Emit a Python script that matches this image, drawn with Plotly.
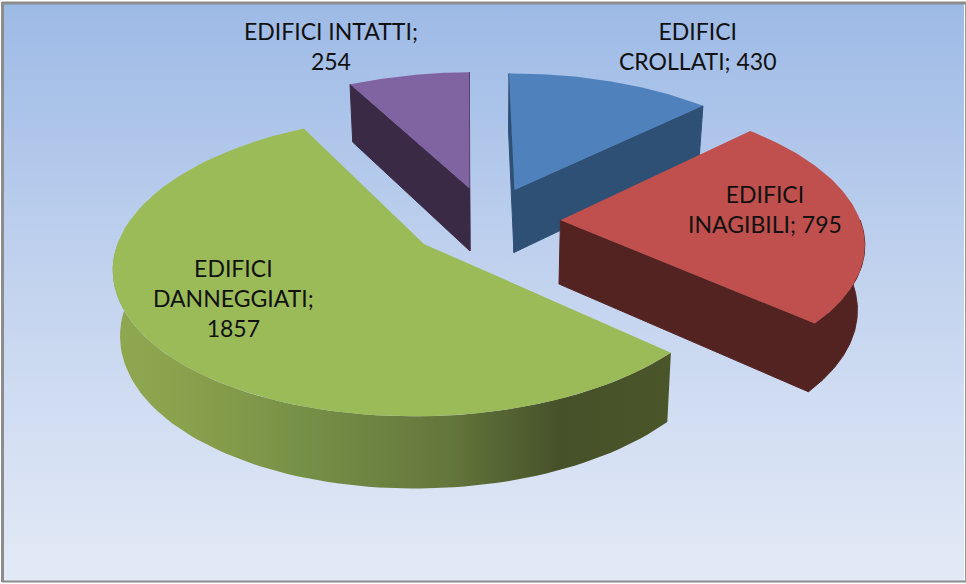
import numpy as np
import plotly.graph_objects as go

categories = ["EDIFICI CROLLATI", "EDIFICI INAGIBILI", "EDIFICI DANNEGGIATI", "EDIFICI INTATTI"]
values = [430, 795, 1857, 254]
top_colors = ["#4F81BD", "#C0504D", "#9BBB59", "#8064A2"]
wall_colors = ["#2F5075", "#522321", "#4A5428", "#3A2A45"]
label_lines = [["EDIFICI", "CROLLATI; 430"], ["EDIFICI", "INAGIBILI; 795"],
               ["EDIFICI", "DANNEGGIATI;", "1857"], ["EDIFICI INTATTI;", "254"]]
label_pos = [(698, 46), (765, 209), (233, 298), (331, 46)]
explode = [0.245, 0.245, 0.26, 0.245]

W, H = 966, 584
CX, CY = 487.0, 221.0
A, B, K = 300.0, 141.0, 0.14
DEPTH, SHRINK = 65.0, 1.02
ROTATION = -0.5


def project(X, Y, z=0.0):
    w = (1 + K * Y) * (1 + (SHRINK - 1) * z)
    return CX + A * X / w, CY + (-B * Y + DEPTH * z) / w


def arc(start, end, ox, oy, z=0.0, n=80):
    t = np.radians(np.linspace(start, end, n))
    return project(ox + np.sin(t), oy + np.cos(t), z)


fig = go.Figure()
# background
fig.add_trace(go.Scatter(x=[4, 964, 964, 4, 4], y=[4, 4, 581, 581, 4], mode="lines",
                         line=dict(color="rgba(0,0,0,0)", width=0), fill="toself",
                         fillgradient=dict(type="vertical",
                                           colorscale=[[0, "#E3EAF6"], [0.5, "#C4D4EF"], [1, "#9DBAE6"]]),
                         hoverinfo="skip", showlegend=False))

total = sum(values)
angles = np.cumsum([0] + values) / total * 360 + ROTATION
order = [3, 0, 1, 2]
for i in order:
    a0, a1 = angles[i], angles[i + 1]
    mid = np.radians((a0 + a1) / 2)
    ox, oy = explode[i] * np.sin(mid), explode[i] * np.cos(mid)
    # radial walls
    for edge in (a0, a1):
        ex, ey = ox + np.sin(np.radians(edge)), oy + np.cos(np.radians(edge))
        ax, ay = project(ox, oy)
        bx, by = project(ex, ey)
        cx, cy = project(ex, ey, 1)
        dx, dy = project(ox, oy, 1)
        area = (bx - ax) * (cy - ay) - (by - ay) * (cx - ax)
        sign = -1 if edge == a1 else 1
        if area * sign > 0:
            continue
        fig.add_trace(go.Scatter(x=[ax, bx, cx, dx, ax], y=[ay, by, cy, dy, ay], mode="lines",
                                 line=dict(width=1, color=wall_colors[i]), fill="toself",
                                 fillcolor=wall_colors[i], hoverinfo="skip", showlegend=False))
    # outer wall on the viewer side
    s, e = max(a0, 90.0), min(a1, 270.0)
    if e > s:
        tx, ty = arc(s, e, ox, oy)
        bx, by = arc(s, e, ox, oy, 1)
        px = np.r_[tx, bx[::-1], tx[0]]
        py = np.r_[ty, by[::-1], ty[0]]
        kw = dict(fillcolor=wall_colors[i], line=dict(width=1, color=wall_colors[i]))
        if categories[i] == "EDIFICI DANNEGGIATI":
            kw = dict(line=dict(width=0),
                      fillgradient=dict(type="horizontal",
                                        colorscale=[[0, "#8FA850"], [0.12, "#8AA24C"], [0.35, "#768F47"],
                                                    [0.6, "#64773C"], [0.8, "#46512A"], [1, "#4A5529"]]))
        fig.add_trace(go.Scatter(x=px, y=py, mode="lines", fill="toself",
                                 hoverinfo="skip", showlegend=False, **kw))
    # top face
    tx, ty = arc(a0, a1, ox, oy)
    ax, ay = project(ox, oy)
    fig.add_trace(go.Scatter(x=np.r_[ax, tx, ax], y=np.r_[ay, ty, ay], mode="lines", line=dict(width=0),
                             fill="toself", fillcolor=top_colors[i], name=categories[i],
                             hovertemplate=f"{categories[i]}: {values[i]}<extra></extra>", showlegend=False))

shapes = [
    dict(type="line", x0=2.5, x1=2.5, y0=2, y1=582, line=dict(color="#8C8C8C", width=3)),
    dict(type="line", x0=2, x1=966, y0=3, y1=3, line=dict(color="#8C8C8C", width=3)),
    dict(type="line", x0=965.5, x1=965.5, y0=2, y1=582, line=dict(color="#999999", width=1)),
    dict(type="line", x0=2, x1=966, y0=581.5, y1=581.5, line=dict(color="#8C8C8C", width=2)),
]
annotations = [dict(x=x, y=y, text="<br>".join(lines), showarrow=False, xref="x", yref="y",
                    align="center", font=dict(family="Lato", size=23, color="#111111"))
               for lines, (x, y) in zip(label_lines, label_pos)]

fig.update_layout(width=W, height=H, margin=dict(l=0, r=0, t=0, b=0), paper_bgcolor="white",
                  plot_bgcolor="rgba(0,0,0,0)", showlegend=False, shapes=shapes, annotations=annotations,
                  xaxis=dict(range=[0, W], visible=False, fixedrange=True),
                  yaxis=dict(range=[H, 0], visible=False, fixedrange=True))
fig.write_html("out.html", config=dict(displayModeBar=False),
               post_script="document.body.style.margin='0';document.documentElement.style.overflow='hidden';")
